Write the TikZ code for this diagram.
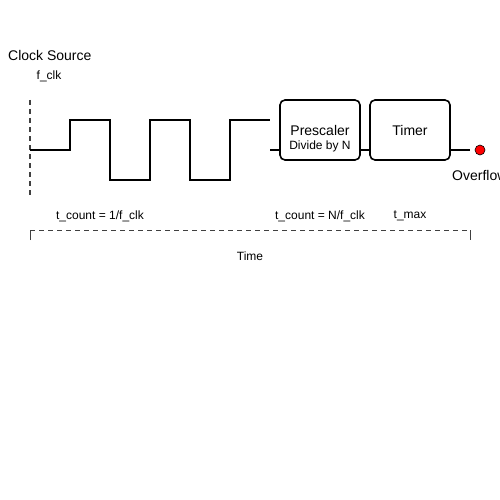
\documentclass[tikz,border=0pt]{standalone}
\usepackage{fontspec}
\setmainfont{Liberation Sans}
\usetikzlibrary{calc}
\begin{document}
\begin{tikzpicture}[x=1pt,y=-1pt,
  wave/.style={line width=2pt,line join=miter},
  blockbox/.style={draw,line width=1.6pt,rounded corners=5pt,minimum width=80pt,minimum height=60pt,inner sep=0pt,outer sep=0pt},
  guide/.style={draw=black!75,line width=1.3pt,dash pattern=on 5pt off 4pt},
  lbl/.style={inner sep=0pt,font=\fontsize{12}{14}\selectfont},
  big/.style={inner sep=0pt,font=\fontsize{14}{16}\selectfont}]
\useasboundingbox (0,0) rectangle (500,500);
% titles
\node[big,anchor=west] (src) at (8,55) {Clock Source};
\node[lbl] (fclk) at (49,76) {f\_clk};
% dashed marker
\coordinate (m1) at (30,100);
\coordinate (m2) at (30,195);
\draw[guide,line width=1.6pt] (m1) -- (m2);
% square wave
\coordinate (w0) at (30,150);
\coordinate (w1) at (270,120);
\draw[wave] (w0) -- ++(40,0) -- ++(0,-30) -- ++(40,0) -- ++(0,60) -- ++(40,0) -- ++(0,-60) -- ++(40,0) -- ++(0,60) -- ++(40,0) -- ++(0,-60) -- (w1);
% blocks
\node[blockbox] (pre) at (320,130) {};
\node[big] (pretxt) at (320,130) {Prescaler};
\node[lbl] (pretxt2) at (320,146) {Divide by N};
\node[blockbox] (tim) at (410,130) {};
\node[big] (timtxt) at (410,130) {Timer};
\node[circle,fill=red,draw=black,line width=0.6pt,minimum size=10pt,inner sep=0pt] (ovf) at (480,150) {};
\node[big,anchor=west] (ovftxt) at (452,175) {Overflow};
% connectors
\coordinate (s0) at (270,150);
\draw[wave] (s0) -- (s0 -| pre.west);
\draw[wave] (pre.east |- ovf) -- (tim.west |- ovf);
\coordinate (s1) at (470,150);
\draw[wave] (tim.east |- ovf) -- (s1);
% time labels
\node[lbl] (tc1) at (100,216) {t\_count = 1/f\_clk};
\node[lbl] (tc2) at (320,216) {t\_count = N/f\_clk};
\node[lbl] (tmax) at (410,216) {t\_max};
% time bracket
\coordinate (b1) at (30,240);
\coordinate (b2) at (30,230);
\coordinate (b3) at (470,230);
\coordinate (b4) at (470,240);
\draw[guide,line width=1pt] (b2) -- (b3);
\draw[draw=black!75,line width=1pt] (b1) -- (b2) (b3) -- (b4);
\node[lbl] (time) at (250,256) {Time};
\end{tikzpicture}
\end{document}
